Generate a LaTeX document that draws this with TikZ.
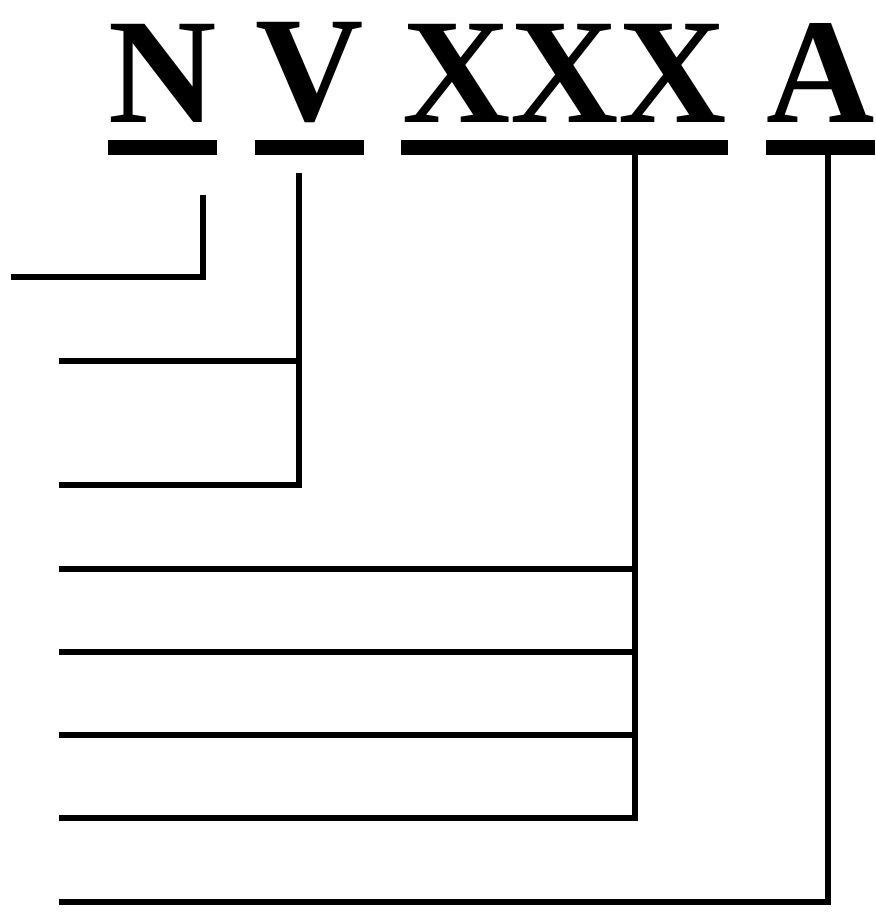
\documentclass[tikz,border=0pt]{standalone}
\usepackage{fontspec}
\setmainfont{Liberation Serif}
\usepackage{tikz}
\usetikzlibrary{positioning}
\tikzset{
  code/letter/.style={font=\fontsize{150}{150}\selectfont\bfseries, inner sep=0pt, outer sep=0pt},
  code/bar/.style={fill=black, inner sep=0pt, outer sep=0pt, minimum height=15pt},
  code/line/.style={line width=5.5pt, line join=miter}
}

\begin{document}
\begin{tikzpicture}[x=1pt, y=-1pt]
  \useasboundingbox (0,0) rectangle (875,912);
  % underline bars
  \node[code/bar, minimum width=109pt] (barN) at (162.5,147.5) {};
  \node[code/bar, minimum width=109pt] (barV) at (309.5,147.5) {};
  \node[code/bar, minimum width=327pt] (barX) at (564.5,147.5) {};
  \node[code/bar, minimum width=109pt] (barA) at (820.5,147.5) {};
  \node[code/letter, above=17pt of barN] (letN) {N};
  \node[code/letter, above=17pt of barV] (letV) {V};
  \node[code/letter, above=17pt of barX] (letX) {XXX};
  \node[code/letter, above=17pt of barA] (letA) {A};

  % N
  \coordinate (nTop) at (203,195);
  \coordinate (nEnd) at (11,277);
  \draw[code/line] (nTop) |- (nEnd);

  % V
  \coordinate (vTop) at (299,173);
  \coordinate (vLeg1) at (59,361);
  \coordinate (vLeg2) at (59,485);
  \draw[code/line] (vTop) |- (vLeg2);
  \draw[code/line] (vLeg1) -- (vLeg1 -| vTop);

  % XXX
  \coordinate (xFoot) at (635,818);
  \foreach \y [count=\i] in {569,652,735,818}
    \coordinate (xLeg\i) at (59,\y);
  \draw[code/line] (barX.south -| xFoot) |- (xLeg4);
  \foreach \i in {1,2,3}
    \draw[code/line] (xLeg\i) -- (xLeg\i -| xFoot);

  % A
  \coordinate (aFoot) at (828,902);
  \coordinate (aLeg) at (59,902);
  \draw[code/line] (barA.south -| aFoot) |- (aLeg);
\end{tikzpicture}
\end{document}
